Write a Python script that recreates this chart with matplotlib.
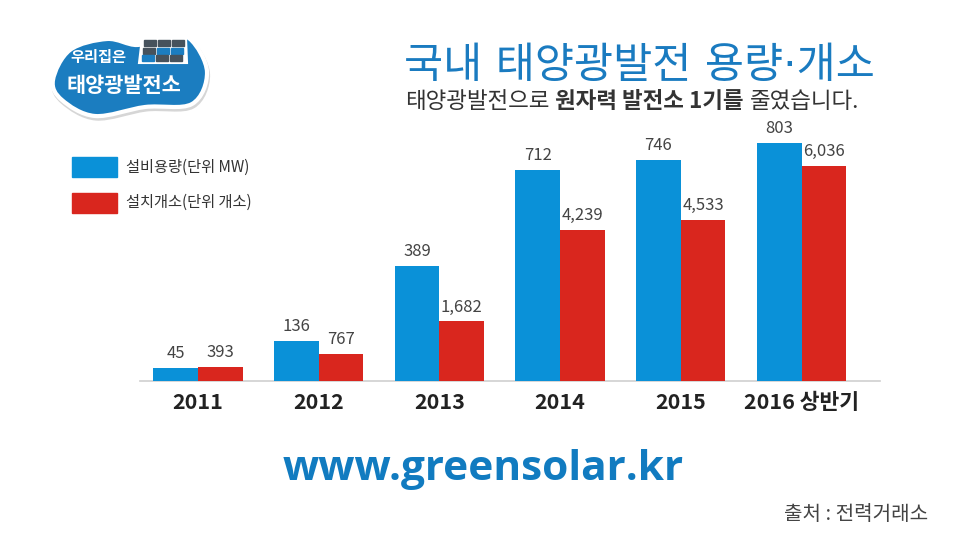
import numpy as np
import matplotlib
matplotlib.use("Agg")
from matplotlib import pyplot as plt
from matplotlib.path import Path
from matplotlib.patches import PathPatch, Rectangle, Polygon

plt.rcParams['font.family'] = ['Noto Sans CJK KR', 'DejaVu Sans']

# data
years = ["2011", "2012", "2013", "2014", "2015", "2016 상반기"]
capacity_mw = [45, 136, 389, 712, 746, 803]
sites = [393, 767, 1682, 4239, 4533, 6036]

BLUE = "#0a91d8"
RED = "#d9261e"
TITLE_BLUE = "#1a7bc0"
W, H = 966, 544


def fx(x):
    return x / W


def fy(y):
    return 1 - y / H


fig = plt.figure(figsize=(W / 100, H / 100), dpi=100)
fig.patch.set_facecolor("white")

# main bars: two scales, one per series
ax = fig.add_axes([fx(140), fy(381), fx(880) - fx(140), fy(130) - fy(381)])
ax2 = ax.twinx()
x = np.arange(len(years))
bw = 0.37
b1 = ax.bar(x - bw / 2, capacity_mw, bw, color=BLUE, zorder=3)
b2 = ax2.bar(x + bw / 2, sites, bw, color=RED, zorder=3)
ax.set_xlim(-0.48, 5.65)
ax.set_ylim(0, 803 * 251 / 238)
ax2.set_ylim(0, 6036 * 251 / 215)
ax.bar_label(b1, labels=[f"{v:,}" for v in capacity_mw], padding=4,
             fontsize=12, color="#444444")
ax2.bar_label(b2, labels=[f"{v:,}" for v in sites], padding=4,
              fontsize=12, color="#444444")
for a in (ax, ax2):
    for s in a.spines.values():
        s.set_visible(False)
    a.set_yticks([])
ax.spines["bottom"].set_visible(True)
ax.spines["bottom"].set_color("#cfcfcf")
ax.spines["bottom"].set_linewidth(1.2)
ax.set_xticks(x)
ax.set_xticklabels(years, fontsize=15.5, fontweight="bold", color="#222222")
ax.tick_params(axis="x", length=0, pad=8)

# legend
fig.patches.append(Rectangle((fx(72), fy(177)), fx(45), fy(157) - fy(177),
                             transform=fig.transFigure, color=BLUE))
fig.patches.append(Rectangle((fx(72), fy(213)), fx(45), fy(193) - fy(213),
                             transform=fig.transFigure, color=RED))
fig.text(fx(126), fy(167), "설비용량(단위 MW)", fontsize=11, color="#333333",
         va="center")
fig.text(fx(126), fy(202), "설치개소(단위 개소)", fontsize=11, color="#333333",
         va="center")

# title and subtitle
fig.text(fx(404), fy(66), "국내 태양광발전 용량·개소", fontsize=30.6,
         color=TITLE_BLUE, va="center",
         family=["DejaVu Sans", "Noto Sans CJK KR"])

parts = [("태양광발전으로", "normal"), ("원자력 발전소 1기를", "bold"),
         ("줄였습니다.", "normal")]
fig.canvas.draw()
renderer = fig.canvas.get_renderer()
cur = 405
for txt, wt in parts:
    t = fig.text(fx(cur), fy(102), txt, fontsize=16.2, fontweight=wt,
                 color="#333333", va="center")
    bb = t.get_window_extent(renderer)
    cur += bb.width + 6

# logo blob
pts = np.array([(53, 80), (70, 50), (107, 39), (137, 45), (165, 37),
                (190, 39), (207, 72), (192, 104), (145, 107), (95, 116),
                (62, 100)], dtype=float)
n = len(pts)
verts = [pts[0]]
codes = [Path.MOVETO]
for i in range(n):
    p0, p1, p2, p3 = pts[i - 1], pts[i], pts[(i + 1) % n], pts[(i + 2) % n]
    c1 = p1 + (p2 - p0) / 6
    c2 = p2 - (p3 - p1) / 6
    verts += [c1, c2, p2]
    codes += [Path.CURVE4] * 3
verts = np.array(verts)
shadow = Path(np.column_stack([fx(verts[:, 0] + 1), fy(verts[:, 1] + 2.5)]),
              codes)
fig.patches.append(PathPatch(shadow, transform=fig.transFigure,
                             facecolor="#d6d6d6", edgecolor="#d6d6d6", lw=3))
blob = Path(np.column_stack([fx(verts[:, 0]), fy(verts[:, 1])]), codes)
fig.patches.append(PathPatch(blob, transform=fig.transFigure,
                             facecolor="#1b7dc0", edgecolor="white", lw=3))

# solar panel icon
panel = Polygon([(fx(139), fy(63)), (fx(187), fy(63)), (fx(186), fy(38)),
                 (fx(142), fy(38))], closed=True, transform=fig.transFigure,
                facecolor="white", edgecolor="white", lw=1.5)
fig.patches.append(panel)
cells = [["#46525c"] * 3,
         ["#46525c", "#1b7dc0", "#1b7dc0"],
         ["#1b7dc0", "#46525c", "#46525c"]]
for r in range(3):
    for c in range(3):
        y0 = 40 + r * 7.7
        xl = 143.5 - r * 1 + c * 14
        fig.patches.append(Rectangle((fx(xl), fy(y0 + 6)), fx(12.2),
                                     fy(y0) - fy(y0 + 6),
                                     transform=fig.transFigure,
                                     color=cells[r][c], zorder=5))

fig.text(fx(70), fy(57), "우리집은", fontsize=11, color="white", va="center",
         fontweight="bold")
fig.text(fx(67), fy(85), "태양광발전소", fontsize=15, color="white",
         va="center", fontweight="bold")

# footer
fig.text(fx(283), fy(470), "www.greensolar.kr", fontsize=30.5, color="#117bc0",
         fontweight="bold", va="center", family=["Open Sans", "DejaVu Sans"])
fig.text(fx(928), fy(514), "출처 : 전력거래소", fontsize=14.5, color="#444444",
         va="center", ha="right")

fig.savefig("out.png", dpi=100, facecolor="white")
